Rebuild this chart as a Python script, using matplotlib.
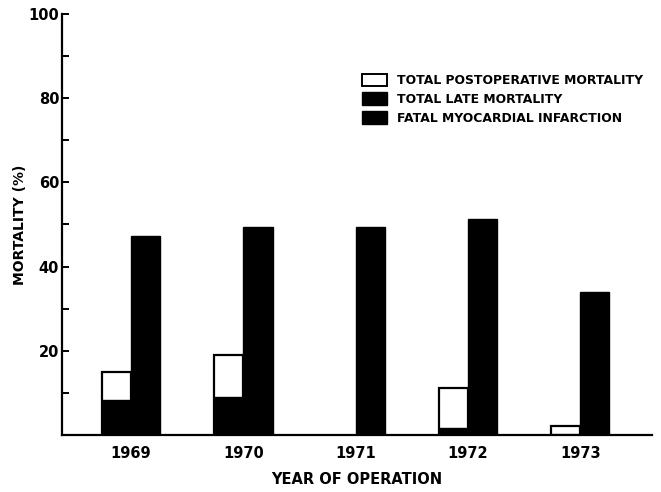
import matplotlib.pyplot as plt
from matplotlib.patches import Patch
from matplotlib.ticker import MultipleLocator
import numpy as np

# Data
years = ['1969', '1970', '1971', '1972', '1973']
postop_mortality = [15.0, 19.0, 0.0, 11.2, 2.1]
fatal_mi = [8.3, 9.0, 0.0, 1.6, 0.0]
late_mortality = [47.3, 49.4, 49.4, 51.3, 34.0]

x = np.arange(1, len(years) + 1)
w = 0.26

fig = plt.figure(figsize=(6.61, 4.92), dpi=100)
ax = fig.add_axes([0.0938, 0.1159, 0.8926, 0.8557])

# White postoperative bars (skip zero values so no outline is drawn)
for xi, v in zip(x, postop_mortality):
    if v > 0:
        ax.bar(xi - w / 2, v, width=w, color='white', edgecolor='black',
               linewidth=1.6, zorder=2)
# Fatal MI inside the white bars
ax.bar(x - w / 2, fatal_mi, width=w, color='black', edgecolor='black',
       linewidth=1.0, zorder=3)
# Late mortality
ax.bar(x + w / 2, late_mortality, width=w, color='black', edgecolor='black',
       linewidth=1.0, zorder=3)

ax.set_xlim(0.385, 5.64)
ax.set_ylim(0, 100)

ax.spines['top'].set_visible(False)
ax.spines['right'].set_visible(False)
ax.spines['left'].set_linewidth(1.6)
ax.spines['bottom'].set_linewidth(1.6)

ax.yaxis.set_major_locator(MultipleLocator(20))
ax.yaxis.set_minor_locator(MultipleLocator(10))
ax.set_yticks([20, 40, 60, 80, 100])
ax.tick_params(axis='y', which='both', direction='in', length=5, width=1.4,
               labelsize=10.5, pad=2)
for lab in ax.get_yticklabels():
    lab.set_fontweight('bold')

ax.set_xticks(x)
ax.set_xticklabels(years, fontsize=10.5, fontweight='bold')
ax.tick_params(axis='x', length=0, pad=8)

ax.set_xlabel('YEAR OF OPERATION', fontsize=10.5, fontweight='bold', labelpad=8)
ax.set_ylabel('MORTALITY (%)', fontsize=10, fontweight='bold', labelpad=1)

handles = [
    Patch(facecolor='white', edgecolor='black', linewidth=1.4,
          label='TOTAL POSTOPERATIVE MORTALITY'),
    Patch(facecolor='black', edgecolor='black', label='TOTAL LATE MORTALITY'),
    Patch(facecolor='black', edgecolor='black', label='FATAL MYOCARDIAL INFARCTION'),
]
leg = ax.legend(handles=handles, loc='upper left', bbox_to_anchor=(0.5, 0.87),
                frameon=False, fontsize=8.9, handlelength=2.0, handleheight=1.2,
                handletextpad=0.8, labelspacing=0.42, borderaxespad=0)
for t in leg.get_texts():
    t.set_fontweight('bold')

fig.savefig('out.png', dpi=100)
